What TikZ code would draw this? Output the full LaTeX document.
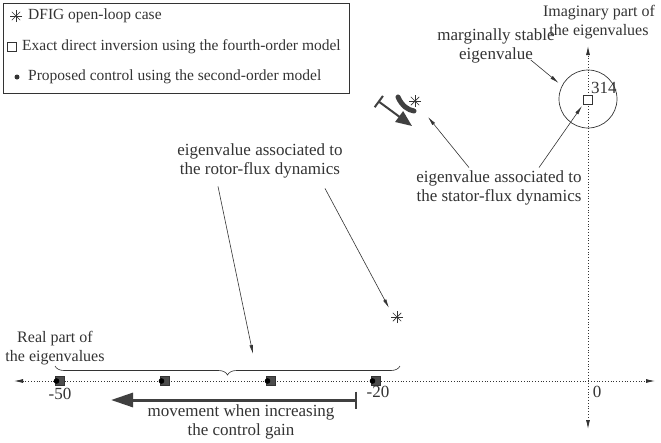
\documentclass[tikz,border=0pt]{standalone}
\usepackage{fontspec}
\setmainfont{Liberation Serif}
\usetikzlibrary{arrows.meta,decorations.pathreplacing,calc}
\tikzset{
  lbl/.style={font=\fontsize{17}{19}\selectfont, align=center, inner sep=0pt, text=black!80},
  leglbl/.style={font=\fontsize{15.5}{18}\selectfont, inner sep=0pt, text=black!80},
  axlbl/.style={font=\fontsize{16}{18.5}\selectfont, align=center, inner sep=0pt, text=black!80},
  axisline/.style={dotted, line width=0.8pt, draw=black!80, {Latex[length=9pt,width=4pt]}-{Latex[length=9pt,width=4pt]}},
  callout/.style={draw=black!80, line width=0.6pt, -{Latex[length=9pt,width=3.5pt]}},
  evmark/.style={rectangle, draw=black!80, fill=black!70, line width=1pt, minimum size=9pt, inner sep=0pt},
  astpic/.pic={\foreach \a in {0,45,90,135}{\draw[line width=0.7pt, black!80] (\a:6) -- (\a+180:6);}},
}
\begin{document}
\begin{tikzpicture}[x=1pt,y=-1pt]
\useasboundingbox (0,0) rectangle (661,442);
% legend
\node[draw=black!80, line width=0.7pt, minimum width=346pt, minimum height=90pt, anchor=north west, inner sep=0pt] (legend) at (3,3) {};
\pic at (16,16) {astpic};
\node[leglbl, anchor=west] (leg1) at (28,16) {DFIG open-loop case};
\node[draw=black!80, line width=0.6pt, minimum size=9pt, inner sep=0pt] (legsq) at (12,47) {};
\node[leglbl, anchor=west] (leg2) at (22,47) {Exact direct inversion using the fourth-order model};
\node[circle, fill=black!80, minimum size=5pt, inner sep=0pt] (legdot) at (17,77) {};
\node[leglbl, anchor=west] (leg3) at (28,77) {Proposed control using the second-order model};
% axes
\coordinate (xl) at (14,381);
\coordinate (xr) at (655,381);
\coordinate (yt) at (588,46);
\coordinate (yb) at (588,429);
\draw[axisline] (xl) -- (xr);
\draw[axisline] (yb) -- (yt);
\node[axlbl] (imlab) at (599,22) {Imaginary part of\\the eigenvalues};
\node[axlbl] (relab) at (55,348) {Real part of\\the eigenvalues};
\node[lbl] (zero) at (597,392) {0};
% markers on real axis
\foreach \n/\x in {m1/60,m2/165,m3/271,m4/376}{
  \node[evmark] (\n) at (\x,381) {};
  \fill[black] ($(\n.west)+(1.5,0)$) circle (2.8pt);
}
\node[lbl] (l50) at (60,394) {-50};
\node[lbl] (l20) at (378,392) {-20};
% movement arrow
\coordinate (mvs) at (357,400);
\coordinate (mve) at (111,400);
\draw[line width=3pt, black!75, {Bar[width=17pt,line width=2pt]}-{Triangle[length=22pt,width=14pt]}] (mvs) -- (mve);
\node[lbl] (mvtext) at (241,422) {movement when increasing\\the control gain};
% brace
\coordinate (bl) at (55,366);
\coordinate (br) at (400,366);
\draw[line width=0.6pt, black!80, decorate, decoration={brace, amplitude=9pt, mirror}] (bl) -- (br);
\coordinate (btip) at (253,354);
% rotor eigenvalue
\pic at (397,317) {astpic};
\coordinate (rotorev) at (389,308);
\node[lbl] (rotortext) at (260,161) {eigenvalue associated to\\the rotor-flux dynamics};
\draw[callout] ($(rotortext.south)+(-42,8)$) -- (btip);
\draw[callout] ($(rotortext.south)+(65,10)$) -- (rotorev);
% stator eigenvalue
\pic at (415,101) {astpic};
\coordinate (statorev) at (428,117);
\draw[line width=5pt, black!75, line cap=round] (398,97) .. controls (402,106) and (408,110) .. (414,111);
\coordinate (ts) at (378,101);
\coordinate (te) at (412,126);
\draw[line width=2pt, black!75, {Bar[width=14pt,line width=2pt]}-{Triangle[length=16pt,width=13pt]}] (ts) -- (te);
\node[lbl] (statortext) at (499,188) {eigenvalue associated to\\the stator-flux dynamics};
\draw[callout] ($(statortext.north)+(-30,-3)$) -- (statorev);
\draw[callout] ($(statortext.north)+(40,-3)$) -- (582,106);
% marginally stable
\node[circle, draw=black!80, line width=0.7pt, minimum size=58pt, inner sep=0pt] (mcirc) at (588,99) {};
\node[draw=black!80, line width=0.7pt, minimum size=9pt, inner sep=0pt, fill=white] (msq) at (588,100) {};
\node[lbl, anchor=south west, inner sep=1pt] (l314) at (590,95) {314};
\node[lbl] (margtext) at (496,46) {marginally stable\\eigenvalue};
\draw[callout] ($(margtext.east)+(-24,14)$) -- (mcirc.west |- 0,83);
\end{tikzpicture}
\end{document}
